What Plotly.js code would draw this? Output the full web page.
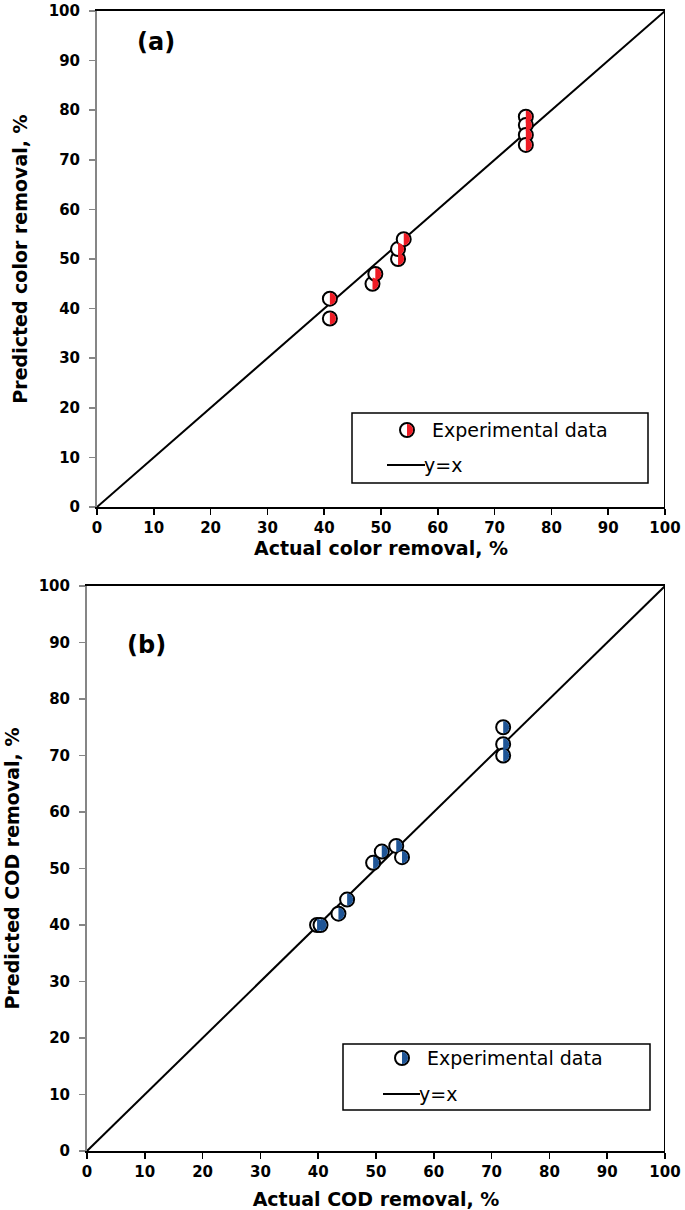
<!DOCTYPE html>
<html>
<head>
<meta charset="utf-8">
<script src="https://cdn.plot.ly/plotly-3.0.1.min.js"></script>
<style>html,body{margin:0;padding:0;background:#fff;}#chart{width:685px;height:1210px;}</style>
</head>
<body>
<div id="chart"></div>
<script>
// ---- data ----
const colorActual    = [41, 41, 48.5, 49, 53, 53, 54, 75.5, 75.5, 75.5, 75.5];
const colorPredicted = [42, 38, 45, 47, 50, 52, 54, 78.7, 77, 75, 73];
const codActual      = [39.8, 40.4, 43.5, 45, 49.5, 51, 53.5, 54.5, 72, 72, 72];
const codPredicted   = [40, 40, 42, 44.5, 51, 53, 54, 52, 75, 72, 70];
const lineX = [0, 100];
const lineY = [0, 100];
const tickVals = [0, 10, 20, 30, 40, 50, 60, 70, 80, 90, 100];
const panelLabels = ['(a)', '(b)'];
const xTitles = ['Actual color removal, %', 'Actual COD removal, %'];
const yTitles = ['Predicted color removal, %', 'Predicted COD removal, %'];
const legendNames = ['Experimental data', 'y=x'];
const halfColors = ['#ee1c25', '#1f5596'];

const FONT = '"DejaVu Sans", Verdana, sans-serif';
const R = 6; // inner radius of marker (px)
const K = 0.5523 * R;
const halfPath = `M0,${R} C${K},${R} ${R},${K} ${R},0 C${R},${-K} ${K},${-R} 0,${-R} Z`;

function lineTrace(xa, ya) {
  return {x: lineX, y: lineY, xaxis: xa, yaxis: ya, mode: 'lines',
    line: {color: '#000', width: 2}, hoverinfo: 'skip', showlegend: false};
}
function pointTrace(xs, ys, xa, ya) {
  return {x: xs, y: ys, xaxis: xa, yaxis: ya, mode: 'markers', showlegend: false,
    marker: {symbol: 'circle', size: 14, color: '#fff', line: {color: '#000', width: 2}}};
}
function halfShapes(xs, ys, xref, yref, color) {
  return xs.map((x, i) => ({type: 'path', xref: xref, yref: yref, xsizemode: 'pixel', ysizemode: 'pixel',
    xanchor: x, yanchor: ys[i], path: halfPath, fillcolor: color, line: {width: 0}, layer: 'above'}));
}

const data = [
  lineTrace('x', 'y'), pointTrace(colorActual, colorPredicted, 'x', 'y'),
  lineTrace('x2', 'y2'), pointTrace(codActual, codPredicted, 'x2', 'y2')
];

function xAxis(domain, title, anchor, standoff) {
  return {domain: domain, anchor: anchor, range: [0, 100], tickvals: tickVals, ticks: 'outside', ticklen: 6,
    tickwidth: 1.5, tickcolor: '#000', showline: true, linecolor: '#000', linewidth: 2, mirror: true,
    showgrid: false, zeroline: false, ticklabelstandoff: 0,
    tickfont: {family: FONT, size: 15, color: '#000', weight: 'bold'},
    title: {text: title, standoff: standoff, font: {family: FONT, size: 19, color: '#000', weight: 'bold'}}};
}
function yAxis(domain, title, anchor, standoff) {
  return {domain: domain, anchor: anchor, range: [0, 100], tickvals: tickVals, ticks: 'outside', ticklen: 6,
    tickwidth: 1.5, tickcolor: '#868686', showline: true, linecolor: '#868686', linewidth: 2, mirror: false,
    showgrid: false, zeroline: false, ticklabelstandoff: 6,
    tickfont: {family: FONT, size: 15, color: '#000', weight: 'bold'},
    title: {text: title, standoff: standoff, font: {family: FONT, size: 19, color: '#000', weight: 'bold'}}};
}

const xdA = [97/685, 665/685], ydA = [1 - 507/1210, 1 - 11/1210];
const xdB = [87/685, 665/685], ydB = [1 - 1151/1210, 1 - 586/1210];

function px(v) { return v / 685; }
function py(v) { return 1 - v / 1210; }

function legend(box, mk, lineSeg, color) {
  const shapes = [
    {type: 'rect', xref: 'paper', yref: 'paper', x0: px(box[0]), x1: px(box[2]), y0: py(box[3]), y1: py(box[1]),
      line: {color: '#000', width: 1.5}, fillcolor: '#fff', layer: 'above'},
    {type: 'circle', xref: 'paper', yref: 'paper', xsizemode: 'pixel', ysizemode: 'pixel',
      xanchor: px(mk[0]), yanchor: py(mk[1]), x0: -7, x1: 7, y0: -7, y1: 7,
      fillcolor: '#fff', line: {color: '#000', width: 2}, layer: 'above'},
    {type: 'path', xref: 'paper', yref: 'paper', xsizemode: 'pixel', ysizemode: 'pixel',
      xanchor: px(mk[0]), yanchor: py(mk[1]), path: halfPath, fillcolor: color, line: {width: 0}, layer: 'above'},
    {type: 'line', xref: 'paper', yref: 'paper', x0: px(lineSeg[0]), x1: px(lineSeg[1]), y0: py(lineSeg[2]), y1: py(lineSeg[2]),
      line: {color: '#000', width: 2}, layer: 'above'}
  ];
  const anns = [
    {xref: 'paper', yref: 'paper', x: px(mk[0] + 23), y: py(mk[1]), xanchor: 'left', yanchor: 'middle', showarrow: false,
      text: legendNames[0], font: {family: FONT, size: 19, color: '#000'}},
    {xref: 'paper', yref: 'paper', x: px(lineSeg[1] - 3), y: py(lineSeg[2]), xanchor: 'left', yanchor: 'middle', showarrow: false,
      text: legendNames[1], font: {family: FONT, size: 19, color: '#000'}}
  ];
  return {shapes, anns};
}

const legA = legend([352, 413, 648, 483], [407, 430], [387, 425, 465], halfColors[0]);
const legB = legend([343, 1044, 650, 1110], [402, 1058], [383, 420, 1094], halfColors[1]);

const borderShapes = [
  {type: 'line', xref: 'x', yref: 'y domain', x0: 100, x1: 100, y0: 0, y1: 1, line: {color: '#000', width: 2}},
  {type: 'line', xref: 'x2', yref: 'y2 domain', x0: 100, x1: 100, y0: 0, y1: 1, line: {color: '#000', width: 2}}
];

const layout = {
  width: 685, height: 1210, margin: {l: 0, r: 0, t: 0, b: 0},
  paper_bgcolor: '#fff', plot_bgcolor: '#fff', showlegend: false,
  xaxis: xAxis(xdA, xTitles[0], 'y', 4), yaxis: yAxis(ydA, yTitles[0], 'x', 16),
  xaxis2: xAxis(xdB, xTitles[1], 'y2', 14), yaxis2: yAxis(ydB, yTitles[1], 'x2', 14),
  shapes: [].concat(borderShapes,
    halfShapes(colorActual, colorPredicted, 'x', 'y', halfColors[0]),
    halfShapes(codActual, codPredicted, 'x2', 'y2', halfColors[1]),
    legA.shapes, legB.shapes),
  annotations: [
    {xref: 'x', yref: 'y', x: 10.3, y: 93.8, xanchor: 'center', yanchor: 'middle', showarrow: false,
      text: panelLabels[0], font: {family: FONT, size: 24, color: '#000', weight: 'bold'}},
    {xref: 'x2', yref: 'y2', x: 10.3, y: 89.5, xanchor: 'center', yanchor: 'middle', showarrow: false,
      text: panelLabels[1], font: {family: FONT, size: 24, color: '#000', weight: 'bold'}}
  ].concat(legA.anns, legB.anns)
};

Plotly.newPlot('chart', data, layout, {displayModeBar: false, staticPlot: true});
</script>
</body>
</html>
